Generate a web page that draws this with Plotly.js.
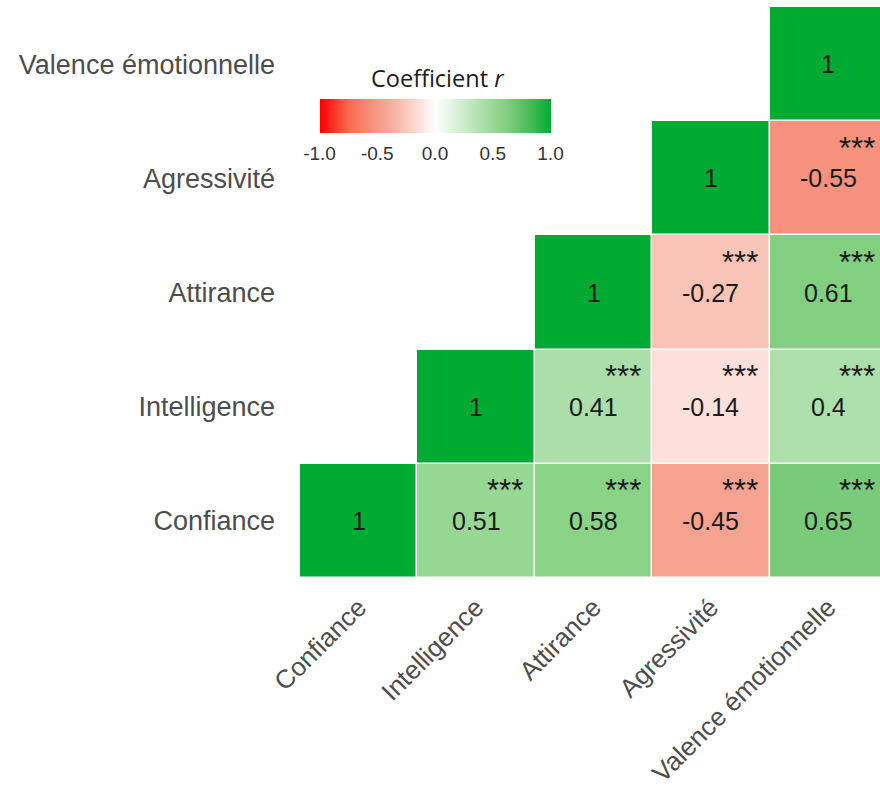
<!DOCTYPE html>
<html>
<head>
<meta charset="utf-8">
<script src="https://cdn.plot.ly/plotly-3.0.1.min.js"></script>
<style>
  html, body { margin: 0; padding: 0; overflow: hidden; background: #ffffff; }
  #chart { width: 895px; height: 789px; }
</style>
</head>
<body>
<div id="chart"></div>
<script>
// ---- data ----
const variables = ['Confiance', 'Intelligence', 'Attirance', 'Agressivité', 'Valence émotionnelle'];
const rConfiance    = [1, 0.51, 0.58, -0.45, 0.65];
const rIntelligence = [null, 1, 0.41, -0.14, 0.4];
const rAttirance    = [null, null, 1, -0.27, 0.61];
const rAgressivite  = [null, null, null, 1, -0.55];
const rValence      = [null, null, null, null, 1];
const sigConfiance    = ['', '***', '***', '***', '***'];
const sigIntelligence = ['', '', '***', '***', '***'];
const sigAttirance    = ['', '', '', '***', '***'];
const sigAgressivite  = ['', '', '', '', '***'];
const sigValence      = ['', '', '', '', ''];
const cbTickVals = [-1, -0.5, 0, 0.5, 1];
const cbTickText = ['-1.0', '-0.5', '0.0', '0.5', '1.0'];

const zRows = [rConfiance, rIntelligence, rAttirance, rAgressivite, rValence];
const sigRows = [sigConfiance, sigIntelligence, sigAttirance, sigAgressivite, sigValence];

const W = 895, H = 789;
const ML = 300, MR = 8, MT = 7, MB = 211;
const PW = W - ML - MR, PH = H - MT - MB;
const FONT = 'Arial, "Liberation Sans", Helvetica, sans-serif';

// colorbar geometry (pixels)
const CB_X0 = 319.5, CB_LEN = 231, CB_TOP = 99, CB_TH = 34;
const px2x = p => (p - ML) / PW;
const px2y = p => (H - MB - p) / PH;

const colorscale = [
  [0.0,   '#ff0000'],
  [0.125, '#f96a50'],
  [0.225, '#f5917c'],
  [0.275, '#f6a290'],
  [0.365, '#f8c4b8'],
  [0.43,  '#fde0db'],
  [0.5,   '#ffffff'],
  [0.7,   '#addfaa'],
  [0.8,   '#85d082'],
  [0.9,   '#4fbd5c'],
  [1.0,   '#00aa33']
];

const annotations = [];
zRows.forEach((row, i) => {
  row.forEach((v, j) => {
    if (v === null) return;
    annotations.push({
      x: variables[j], y: variables[i], xref: 'x', yref: 'y',
      text: String(v), showarrow: false,
      font: {family: FONT, size: 25, color: '#1a1a1a'}
    });
    if (sigRows[i][j]) {
      annotations.push({
        x: variables[j], y: variables[i], xref: 'x', yref: 'y',
        text: sigRows[i][j], showarrow: false,
        xanchor: 'right', yanchor: 'middle', xshift: 49, yshift: 30,
        font: {family: FONT, size: 31, color: '#1a1a1a'}
      });
    }
  });
});

// colorbar title
annotations.push({
  xref: 'paper', yref: 'paper',
  x: px2x(437), y: px2y(78),
  text: 'Coefficient <i>r</i>', showarrow: false, xanchor: 'center', yanchor: 'middle',
  font: {family: '"Open Sans", sans-serif', size: 23.5, color: '#1a1a1a'}
});

// white inner tick marks on the colorbar (ggplot style), at the tick values
const shapes = [];
cbTickVals.forEach(v => {
  if (v === -1 || v === 1) return;
  const px = CB_X0 + (v + 1) / 2 * CB_LEN;
  [[CB_TOP, CB_TOP + 6], [CB_TOP + CB_TH - 6, CB_TOP + CB_TH]].forEach(([a, b]) => {
    shapes.push({
      type: 'line', xref: 'paper', yref: 'paper',
      x0: px2x(px), x1: px2x(px), y0: px2y(a), y1: px2y(b),
      line: {color: '#ffffff', width: 1.5}
    });
  });
});

const trace = {
  type: 'heatmap',
  x: variables, y: variables, z: zRows,
  zmin: -1, zmax: 1,
  colorscale: colorscale,
  xgap: 1.5, ygap: 1.5,
  hoverongaps: false,
  colorbar: {
    orientation: 'h',
    xref: 'paper', yref: 'paper',
    x: px2x(CB_X0 + CB_LEN / 2), xanchor: 'center',
    y: px2y(CB_TOP), yanchor: 'top',
    len: CB_LEN, lenmode: 'pixels',
    thickness: CB_TH, thicknessmode: 'pixels',
    outlinewidth: 0, xpad: 0, ypad: 0,
    tickvals: cbTickVals, ticktext: cbTickText,
    ticks: 'outside', ticklen: 5, tickcolor: 'rgba(0,0,0,0)',
    tickfont: {family: FONT, size: 19, color: '#333333'},
    title: {text: ''}
  }
};

const layout = {
  width: W, height: H,
  margin: {l: ML, r: MR, t: MT, b: MB, autoexpand: false},
  paper_bgcolor: '#ffffff', plot_bgcolor: '#ffffff',
  xaxis: {
    type: 'category', range: [-0.5, 4.5], automargin: false,
    showgrid: false, zeroline: false, showline: false, ticks: '',
    tickangle: -45, ticklabelstandoff: 8,
    tickfont: {family: FONT, size: 26, color: '#4d4d4d'}
  },
  yaxis: {
    type: 'category', range: [-0.5, 4.5], automargin: false,
    showgrid: false, zeroline: false, showline: false, ticks: '',
    ticklabelstandoff: 24,
    tickfont: {family: FONT, size: 27, color: '#4d4d4d'}
  },
  annotations: annotations,
  shapes: shapes,
  showlegend: false
};

Plotly.newPlot('chart', [trace], layout, {displayModeBar: false, staticPlot: true});
</script>
</body>
</html>
